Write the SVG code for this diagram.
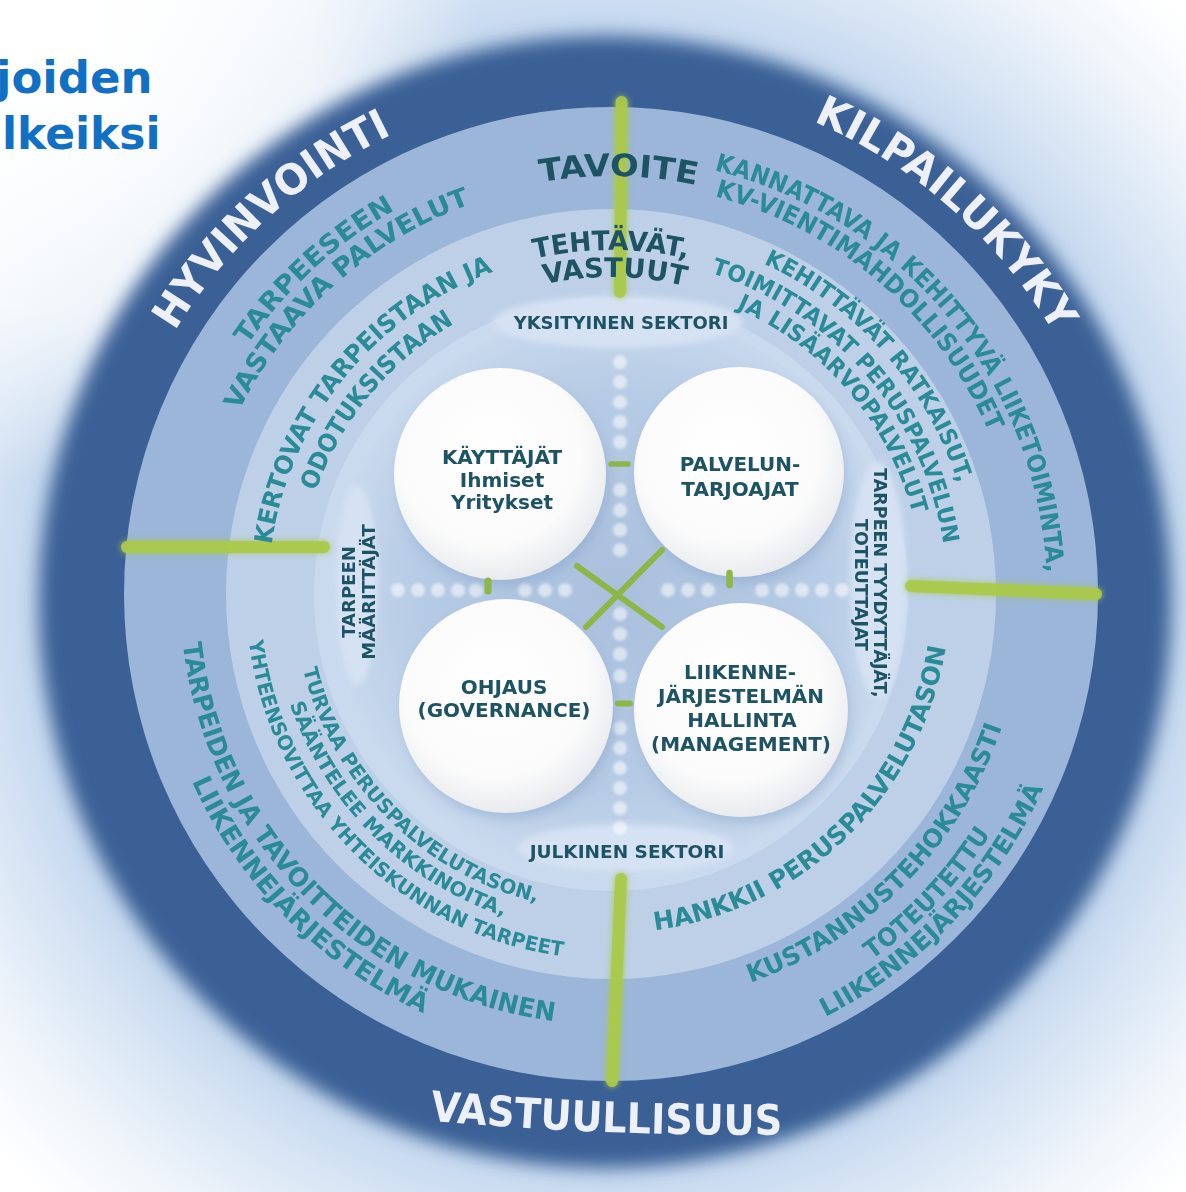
<svg xmlns="http://www.w3.org/2000/svg" width="1186" height="1192" viewBox="0 0 1186 1192">
<style>
.f{font-family:'DejaVu Sans',Verdana,'Liberation Sans',sans-serif;font-weight:bold;text-anchor:middle}
.w{fill:#edf1f7}
.tl{fill:#2a8b97}
.dk{fill:#1d5363}
.g{stroke:#a9c94b;stroke-linecap:round;fill:none;opacity:0.92}
.x{stroke:#8cb645;stroke-linecap:round;fill:none}
.dot{fill:#ffffff;opacity:0.55}
.ball{fill:url(#ball)}
.sh{fill:#7f9cc2;opacity:0.4}
.ell{fill:#d6e3f3;opacity:0.95}
</style>
<defs>
<radialGradient id="glow" gradientUnits="userSpaceOnUse" cx="606" cy="600" r="820">
<stop offset="0.69" stop-color="#c2d6ed"/>
<stop offset="0.76" stop-color="#d3e2f3"/>
<stop offset="0.9" stop-color="#f1f6fb"/>
<stop offset="1" stop-color="#ffffff"/>
</radialGradient>
<radialGradient id="tlw" gradientUnits="userSpaceOnUse" cx="60" cy="60" r="420">
<stop offset="0" stop-color="#ffffff" stop-opacity="1"/>
<stop offset="0.6" stop-color="#ffffff" stop-opacity="0.7"/>
<stop offset="1" stop-color="#ffffff" stop-opacity="0"/>
</radialGradient>
<radialGradient id="inner" gradientUnits="userSpaceOnUse" cx="617" cy="592" r="285">
<stop offset="0" stop-color="#a9c0dd"/>
<stop offset="0.7" stop-color="#b6cbe5"/>
<stop offset="1" stop-color="#c8d9ed"/>
</radialGradient>
<radialGradient id="ball" cx="0.45" cy="0.4" r="0.62">
<stop offset="0" stop-color="#ffffff"/>
<stop offset="0.7" stop-color="#fbfbfb"/>
<stop offset="1" stop-color="#e6e9ed"/>
</radialGradient>
<filter id="blur9" x="-10%" y="-10%" width="120%" height="120%"><feGaussianBlur stdDeviation="9"/></filter>
<filter id="blur6" x="-20%" y="-20%" width="140%" height="140%"><feGaussianBlur stdDeviation="6"/></filter>
<filter id="blur3" x="-30%" y="-30%" width="160%" height="160%"><feGaussianBlur stdDeviation="3"/></filter>
<filter id="blur1" filterUnits="userSpaceOnUse" x="0" y="0" width="1186" height="1192"><feGaussianBlur stdDeviation="1.6"/></filter>
<filter id="glowf" filterUnits="userSpaceOnUse" x="0" y="0" width="1186" height="1192"><feGaussianBlur in="SourceGraphic" stdDeviation="3" result="b"/><feMerge><feMergeNode in="b"/><feMergeNode in="SourceGraphic"/></feMerge></filter>
<path id="p1" d="M126.4,438.4 A509,509 0 0 1 503.5,96.5"/>
<path id="p2" d="M712.2,90.1 A514,514 0 0 1 1098,429.6"/>
<path id="p3" d="M400,1118 Q606,1138 812,1134"/>
<path id="p4" d="M441.3,212 A418,418 0 0 1 794.5,218.5"/>
<path id="p5" d="M652.4,160 A436,436 0 0 1 1045,635.4"/>
<path id="p6" d="M651.8,185 A411,411 0 0 1 1009.3,492.5"/>
<path id="p7" d="M465.6,282.2 A344,344 0 0 1 756.4,282.2"/>
<path id="p7b" d="M480.6,305.1 A317,317 0 0 1 748.5,308.4"/>
<path id="p8" d="M204,425.4 A440.5,440.5 0 0 1 478.5,173.9"/>
<path id="p9" d="M213,478.4 A414.5,414.5 0 0 1 540.5,185.6"/>
<path id="p10" d="M268,599.4 A343,343 0 0 1 546.1,257.2"/>
<path id="p11" d="M302.8,542.2 A312.5,312.5 0 0 1 501.8,301.2"/>
<path id="p12" d="M696.3,240.1 A364,364 0 0 1 972.7,553.1"/>
<path id="p13" d="M654,260.8 A336,336 0 0 1 946.9,601.9"/>
<path id="p14" d="M688.8,291.9 A312,312 0 0 1 921.5,563.8"/>
<path id="p15" d="M180.8,567.7 A431,431 0 0 0 629.8,1024.6"/>
<path id="p16" d="M167.6,712.8 A459,459 0 0 0 492.2,1037.4"/>
<path id="p17" d="M295.3,622.2 A317,317 0 0 0 583.9,909.8"/>
<path id="p18" d="M277,654.4 A339.4,339.4 0 0 0 553.5,928.5"/>
<path id="p19" d="M245.9,580.6 A365.4,365.4 0 0 0 623.1,959.2"/>
<path id="p20" d="M594.4,932.6 A339,339 0 0 0 949.9,586.9"/>
<path id="p21" d="M686.3,1000.1 A413,413 0 0 0 1018.3,662.2"/>
<path id="p22" d="M812.1,995.5 A449,449 0 0 0 1023.1,772.3"/>
<path id="p23" d="M744.4,1048.9 A474,474 0 0 0 1071.6,705.9"/>
</defs>

<g id="background">
<rect width="1186" height="1192" fill="#ffffff"/>
<rect width="1186" height="1192" fill="url(#glow)"/>
<rect width="1186" height="1192" fill="url(#tlw)"/>
<text x="-4" y="93" font-family="'DejaVu Sans',Verdana,sans-serif" font-weight="bold" font-size="45" fill="#1170c4">joiden</text>
<text x="2" y="149" font-family="'DejaVu Sans',Verdana,sans-serif" font-weight="bold" font-size="44" fill="#1170c4">lkeiksi</text>
</g>

<g id="rings">
<circle cx="605" cy="602" r="566" fill="#3a6196" filter="url(#blur9)"/>
<circle cx="611" cy="594" r="487" fill="#9bb6d9"/>
<circle cx="611" cy="594" r="385" fill="#bdd0e8"/>
<circle cx="611" cy="594" r="297" fill="#cadaee"/>
<circle cx="615" cy="593" r="283" fill="url(#inner)"/>
</g>

<g id="sector-areas" filter="url(#blur3)">
<ellipse class="ell" cx="618" cy="322" rx="125" ry="26"/>
<ellipse class="ell" cx="626" cy="848" rx="108" ry="24"/>
<ellipse class="ell" cx="357" cy="585" rx="21" ry="100"/>
<ellipse class="ell" cx="878" cy="580" rx="28" ry="118"/>
</g>

<g id="connectors">
<g filter="url(#glowf)">
<line class="g" x1="621.5" y1="102" x2="620" y2="292" stroke-width="12"/>
<line class="g" x1="621" y1="879" x2="612" y2="1081" stroke-width="12"/>
<line class="g" x1="127" y1="547" x2="324" y2="547" stroke-width="12"/>
<line class="g" x1="911" y1="586" x2="1096" y2="594" stroke-width="12"/>
</g>
<g filter="url(#blur1)">
<circle class="dot" cx="620" cy="362" r="7"/><circle class="dot" cx="620" cy="382" r="7"/><circle class="dot" cx="620" cy="402" r="7"/><circle class="dot" cx="620" cy="422" r="7"/><circle class="dot" cx="620" cy="442" r="7"/>
<circle class="dot" cx="620" cy="490" r="7"/><circle class="dot" cx="620" cy="510" r="7"/><circle class="dot" cx="620" cy="530" r="7"/><circle class="dot" cx="620" cy="550" r="7"/>
<circle class="dot" cx="620" cy="614" r="7"/><circle class="dot" cx="620" cy="634" r="7"/><circle class="dot" cx="620" cy="654" r="7"/><circle class="dot" cx="620" cy="676" r="7"/>
<circle class="dot" cx="620" cy="728" r="7"/><circle class="dot" cx="620" cy="748" r="7"/><circle class="dot" cx="620" cy="768" r="7"/><circle class="dot" cx="620" cy="788" r="7"/><circle class="dot" cx="620" cy="808" r="7"/><circle class="dot" cx="620" cy="828" r="7"/>
<circle class="dot" cx="398" cy="590" r="7"/><circle class="dot" cx="418" cy="590" r="7"/><circle class="dot" cx="438" cy="590" r="7"/><circle class="dot" cx="458" cy="590" r="7"/><circle class="dot" cx="476" cy="590" r="7"/>
<circle class="dot" cx="525" cy="590" r="7"/><circle class="dot" cx="545" cy="590" r="7"/><circle class="dot" cx="565" cy="590" r="7"/>
<circle class="dot" cx="668" cy="590" r="7"/><circle class="dot" cx="688" cy="590" r="7"/><circle class="dot" cx="708" cy="590" r="7"/>
<circle class="dot" cx="762" cy="590" r="7"/><circle class="dot" cx="782" cy="590" r="7"/><circle class="dot" cx="802" cy="590" r="7"/><circle class="dot" cx="822" cy="590" r="7"/><circle class="dot" cx="842" cy="590" r="7"/>
</g>
</g>

<g id="n-kayttajat">
<circle class="sh" cx="503" cy="481" r="105" filter="url(#blur6)"/>
<circle class="ball" cx="500" cy="474" r="106"/>
<text class="f dk" font-size="20" x="502" y="464">KÄYTTÄJÄT</text>
<text class="f dk" font-size="20" x="502" y="487">Ihmiset</text>
<text class="f dk" font-size="20" x="502" y="509">Yritykset</text>
</g>
<g id="n-palveluntarjoajat">
<circle class="sh" cx="742" cy="479" r="104" filter="url(#blur6)"/>
<circle class="ball" cx="739" cy="472" r="105"/>
<text class="f dk" font-size="20" x="740" y="471">PALVELUN-</text>
<text class="f dk" font-size="20" x="740" y="496">TARJOAJAT</text>
</g>
<g id="n-ohjaus">
<circle class="sh" cx="509" cy="713" r="106" filter="url(#blur6)"/>
<circle class="ball" cx="506" cy="706" r="107"/>
<text class="f dk" font-size="20" x="504" y="694">OHJAUS</text>
<text class="f dk" font-size="20" x="504" y="717">(GOVERNANCE)</text>
</g>
<g id="n-liikennejarjestelma">
<circle class="sh" cx="744" cy="717" r="106" filter="url(#blur6)"/>
<circle class="ball" cx="741" cy="710" r="107"/>
<text class="f dk" font-size="20" x="740" y="679">LIIKENNE-</text>
<text class="f dk" font-size="20" x="741" y="703">JÄRJESTELMÄN</text>
<text class="f dk" font-size="20" x="742" y="727">HALLINTA</text>
<text class="f dk" font-size="20" x="741" y="751">(MANAGEMENT)</text>
</g>

<g id="links">
<line class="x" x1="577" y1="566" x2="662" y2="627" stroke-width="6"/>
<line class="x" x1="586" y1="627" x2="662" y2="550" stroke-width="6"/>
<line class="x" x1="611" y1="464" x2="628" y2="464" stroke-width="5.5"/>
<line class="x" x1="618" y1="703.5" x2="630" y2="703.5" stroke-width="6"/>
<line class="x" x1="488" y1="581" x2="488" y2="591" stroke-width="7"/>
<line class="x" x1="729.5" y1="573" x2="729.5" y2="585" stroke-width="6.5"/>
</g>

<g id="sector-labels">
<text class="f dk" font-size="18" x="621" y="329">YKSITYINEN SEKTORI</text>
<text class="f dk" font-size="18.5" x="627" y="858">JULKINEN SEKTORI</text>
<text class="f dk" font-size="18" transform="translate(355,592) rotate(-90)">TARPEEN</text>
<text class="f dk" font-size="18" transform="translate(375,592) rotate(-90)">MÄÄRITTÄJÄT</text>
<text class="f dk" font-size="17.5" transform="translate(874,583) rotate(90)">TARPEEN TYYDYTTÄJÄT,</text>
<text class="f dk" font-size="17.5" transform="translate(855,585) rotate(90)">TOTEUTTAJAT</text>
</g>

<g id="outer-ring-labels">
<text class="f w" font-size="42"><textPath href="#p1" startOffset="50%" textLength="297" lengthAdjust="spacingAndGlyphs">HYVINVOINTI</textPath></text>
<text class="f w" font-size="42"><textPath href="#p2" startOffset="50%" textLength="326" lengthAdjust="spacingAndGlyphs">KILPAILUKYKY</textPath></text>
<text class="f w" font-size="42"><textPath href="#p3" startOffset="50%" textLength="353" lengthAdjust="spacingAndGlyphs">VASTUULLISUUS</textPath></text>
</g>

<g id="goal-ring-labels">
<text class="f dk" font-size="31"><textPath href="#p4" startOffset="50%" textLength="157" lengthAdjust="spacingAndGlyphs">TAVOITE</textPath></text>
<text class="f tl" font-size="25"><textPath href="#p5" startOffset="50%" textLength="559" lengthAdjust="spacingAndGlyphs">KANNATTAVA JA KEHITTYVÄ LIIKETOIMINTA,</textPath></text>
<text class="f tl" font-size="25"><textPath href="#p6" startOffset="50%" textLength="374" lengthAdjust="spacingAndGlyphs">KV-VIENTIMAHDOLLISUUDET</textPath></text>
<text class="f tl" font-size="26"><textPath href="#p8" startOffset="50%" textLength="202" lengthAdjust="spacingAndGlyphs">TARPEESEEN</textPath></text>
<text class="f tl" font-size="26"><textPath href="#p9" startOffset="50%" textLength="318" lengthAdjust="spacingAndGlyphs">VASTAAVA PALVELUT</textPath></text>
<text class="f tl" font-size="26"><textPath href="#p15" startOffset="50%" textLength="570" lengthAdjust="spacingAndGlyphs">TARPEIDEN JA TAVOITTEIDEN MUKAINEN</textPath></text>
<text class="f tl" font-size="26"><textPath href="#p16" startOffset="50%" textLength="335" lengthAdjust="spacingAndGlyphs">LIIKENNEJÄRJESTELMÄ</textPath></text>
<text class="f tl" font-size="25"><textPath href="#p21" startOffset="50%" textLength="371" lengthAdjust="spacingAndGlyphs">KUSTANNUSTEHOKKAASTI</textPath></text>
<text class="f tl" font-size="25"><textPath href="#p22" startOffset="50%" textLength="174" lengthAdjust="spacingAndGlyphs">TOTEUTETTU</textPath></text>
<text class="f tl" font-size="25"><textPath href="#p23" startOffset="50%" textLength="322" lengthAdjust="spacingAndGlyphs">LIIKENNEJÄRJESTELMÄ</textPath></text>
</g>

<g id="task-ring-labels">
<text class="f dk" font-size="27"><textPath href="#p7" startOffset="50%" textLength="154" lengthAdjust="spacingAndGlyphs">TEHTÄVÄT,</textPath></text>
<text class="f dk" font-size="27"><textPath href="#p7b" startOffset="50%" textLength="142" lengthAdjust="spacingAndGlyphs">VASTUUT</textPath></text>
<text class="f tl" font-size="25"><textPath href="#p10" startOffset="50%" textLength="369" lengthAdjust="spacingAndGlyphs">KERTOVAT TARPEISTAAN JA</textPath></text>
<text class="f tl" font-size="25"><textPath href="#p11" startOffset="50%" textLength="222" lengthAdjust="spacingAndGlyphs">ODOTUKSISTAAN</textPath></text>
<text class="f tl" font-size="23"><textPath href="#p12" startOffset="50%" textLength="302" lengthAdjust="spacingAndGlyphs">KEHITTÄVÄT RATKAISUT,</textPath></text>
<text class="f tl" font-size="23"><textPath href="#p13" startOffset="50%" textLength="376" lengthAdjust="spacingAndGlyphs">TOIMITTAVAT PERUSPALVELUN</textPath></text>
<text class="f tl" font-size="23"><textPath href="#p14" startOffset="50%" textLength="280" lengthAdjust="spacingAndGlyphs">JA LISÄARVOPALVELUT</textPath></text>
<text class="f tl" font-size="20"><textPath href="#p17" startOffset="50%" textLength="347" lengthAdjust="spacingAndGlyphs">TURVAA PERUSPALVELUTASON,</textPath></text>
<text class="f tl" font-size="20"><textPath href="#p18" startOffset="50%" textLength="312" lengthAdjust="spacingAndGlyphs">SÄÄNTELEE MARKKINOITA,</textPath></text>
<text class="f tl" font-size="20"><textPath href="#p19" startOffset="50%" textLength="478" lengthAdjust="spacingAndGlyphs">YHTEENSOVITTAA YHTEISKUNNAN TARPEET</textPath></text>
<text class="f tl" font-size="25"><textPath href="#p20" startOffset="50%" textLength="435" lengthAdjust="spacingAndGlyphs">HANKKII PERUSPALVELUTASON</textPath></text>
</g>
</svg>
